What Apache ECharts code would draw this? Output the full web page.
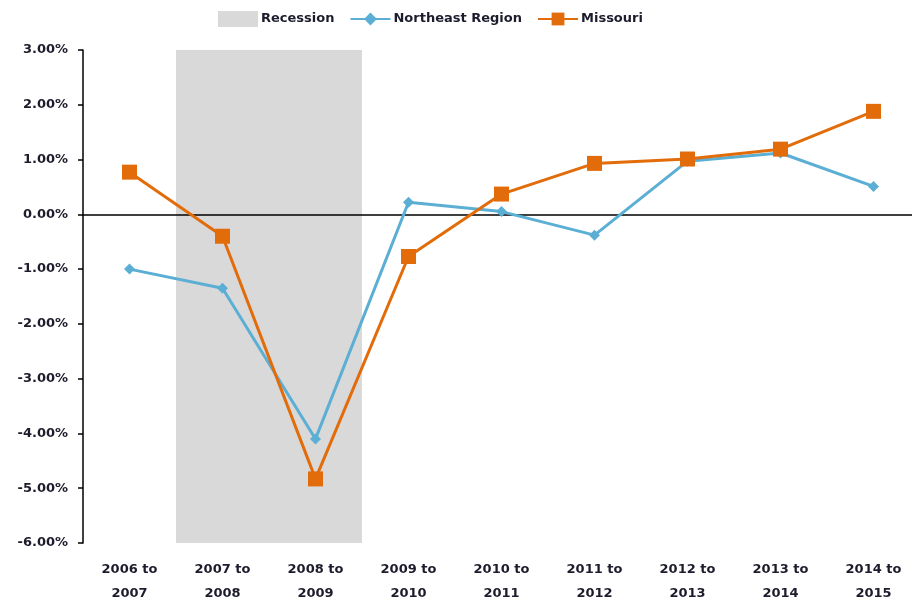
<!DOCTYPE html>
<html>
<head>
<meta charset="utf-8">
<script src="https://cdn.jsdelivr.net/npm/echarts@6/dist/echarts.min.js"></script>
<style>html,body{margin:0;padding:0;background:#fff;}#c{width:912px;height:601px;}</style>
</head>
<body>
<div id="c"></div>
<script>
const categories = ['2006 to\n2007','2007 to\n2008','2008 to\n2009','2009 to\n2010','2010 to\n2011','2011 to\n2012','2012 to\n2013','2013 to\n2014','2014 to\n2015'];
const northeast = [-1.00, -1.35, -4.10, 0.22, 0.05, -0.38, 0.97, 1.12, 0.51];
const missouri = [0.77, -0.40, -4.83, -0.77, 0.37, 0.93, 1.01, 1.19, 1.88];
const recessionRange = [[1, 2]]; // first and last category index of the recession
const yMin = -6, yMax = 3, yStep = 1;

const font = '"DejaVu Sans", sans-serif';
const textColor = '#1c1c2c';

const chart = echarts.init(document.getElementById('c'));
chart.setOption({
  animation: false,
  legend: {
    left: 213, top: 6,
    itemGap: 15, itemWidth: 40, itemHeight: 16,
    textStyle: {fontFamily: font, fontSize: 13, fontWeight: 'bold', color: textColor, padding: [0, 0, 0, -2]},
    data: [
      {name: 'Recession', icon: 'rect'},
      {name: 'Northeast Region'},
      {name: 'Missouri'}
    ]
  },
  grid: {left: 83, top: 50, width: 837, height: 493, containLabel: false, outerBoundsMode: 'none'},
  xAxis: [
    {
      type: 'category', data: categories, z: 1,
      axisLine: {onZero: true, lineStyle: {color: '#000', width: 1.5}},
      axisTick: {inside: true, alignWithLabel: true, length: 4, lineStyle: {color: '#000', width: 1.5}},
      axisLabel: {show: false}
    },
    {
      type: 'category', data: categories, position: 'bottom',
      axisLine: {show: false, onZero: false}, axisTick: {show: false},
      axisLabel: {margin: 15, fontFamily: font, fontSize: 13, fontWeight: 'bold', color: textColor, lineHeight: 24}
    }
  ],
  yAxis: {
    type: 'value', min: yMin, max: yMax, interval: yStep,
    axisLine: {show: true, lineStyle: {color: '#000', width: 1.5}},
    axisTick: {show: true, length: 5, lineStyle: {color: '#000', width: 1.5}},
    splitLine: {show: false},
    axisLabel: {margin: 15, fontFamily: font, fontSize: 13, fontWeight: 'bold', color: textColor, formatter: v => v.toFixed(2) + '%'}
  },
  series: [
    {
      name: 'Recession', type: 'custom', data: recessionRange, z: 0, silent: true,
      itemStyle: {color: '#D9D9D9'},
      encode: {x: [0, 1]},
      renderItem: function (params, api) {
        const band = api.size([1, 0])[0];
        const p0 = api.coord([api.value(0), yMax]);
        const p1 = api.coord([api.value(1), yMin]);
        return {
          type: 'rect',
          shape: {x: p0[0] - band / 2, y: p0[1], width: p1[0] - p0[0] + band, height: p1[1] - p0[1]},
          style: {fill: '#D9D9D9'}
        };
      }
    },
    {name: 'Northeast Region', type: 'line', data: northeast, z: 3,
     symbol: 'diamond', symbolSize: 11,
     lineStyle: {color: '#5BAED4', width: 3}, itemStyle: {color: '#5BAED4'}},
    {name: 'Missouri', type: 'line', data: missouri, z: 4,
     symbol: 'rect', symbolSize: 15,
     lineStyle: {color: '#E36C0A', width: 3}, itemStyle: {color: '#E36C0A'}}
  ]
});
</script>
</body>
</html>
